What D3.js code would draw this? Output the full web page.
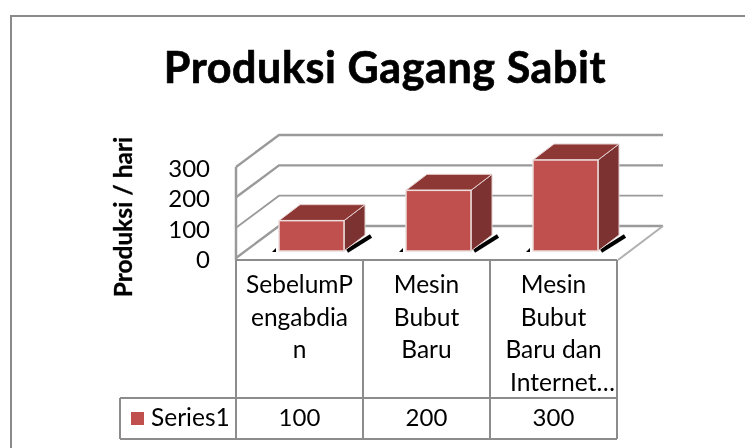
<!DOCTYPE html>
<html><head><meta charset="utf-8">
<script src="https://cdn.jsdelivr.net/npm/d3@7"></script>
<style>html,body{margin:0;padding:0;background:#fff}svg{display:block;filter:blur(0.35px)}text{font-family:Lato,"Open Sans",sans-serif;fill:#000}</style>
</head><body><div id="c"></div>
<script>
const categories=[["SebelumP","engabdia","n"],["Mesin","Bubut","Baru"],["Mesin","Bubut","Baru dan","Internet…"]];
const seriesName="Series1";
const values=[100,200,300];
const yTicks=[0,100,200,300];
const title="Produksi Gagang Sabit";
const yTitle="Produksi / hari";

const W=745,H=448,grid="#9a9a9a",edge="#8c8c8c";
const svg=d3.select("#c").append("svg").attr("width",W).attr("height",H);
svg.append("path").attr("d",`M11,${H}V16H${W}`).attr("fill","none").attr("stroke","#8a8a8a").attr("stroke-width",2);
svg.append("text").attr("x",385).attr("y",83).attr("text-anchor","middle").attr("font-size",43).attr("letter-spacing",0.6).attr("font-weight",700).attr("stroke","#000").attr("stroke-width",0.7).text(title);
svg.append("text").attr("transform","translate(132,217) rotate(-90)").attr("text-anchor","middle").attr("font-size",24.5).attr("font-weight",700).attr("stroke","#000").attr("stroke-width",0.3).text(yTitle);

const x=d3.scaleBand().domain(d3.range(values.length)).range([236,617]);
const y=d3.scaleLinear().domain([0,300]).range([258,167]);
const dx=43,dy=-32;
yTicks.forEach(t=>{
  const yy=y(t);
  svg.append("path").attr("d",`M236,${yy}L${236+dx},${yy+dy}L663,${yy+dy}`).attr("fill","none").attr("stroke",grid).attr("stroke-width",t===100?1.8:2.4);
  svg.append("text").attr("x",210).attr("y",yy+10).attr("text-anchor","end").attr("font-size",24).text(t);
});
svg.append("path").attr("d",`M236,${y(0)+2}V${y(300)}`).attr("stroke",grid).attr("stroke-width",2.5);
svg.append("path").attr("d",`M618,260L663,${y(0)+dy}`).attr("stroke","#b0b0b0").attr("stroke-width",2).attr("fill","none");

const bw=65,bd=21,bh=16,offx=43,base=251;
const h=v=>y(0)-y(v);
values.forEach((v,i)=>{
  const x0=x(i)+offx, x1=x0+bw, t=base-h(v);
  svg.append("path").attr("d",`M${x0-7},${base+1}l4,-4v4z`).attr("fill","#000");
  svg.append("path").attr("d",`M${x1+3},${base}L${x1+27},${base-15}`).attr("stroke","#000").attr("stroke-width",4);
  svg.append("path").attr("d",`M${x1},${t}l${bd},${-bh}V${base-bh}L${x1},${base}z`).attr("fill","#7c3230").attr("stroke","#e4cfce").attr("stroke-width",1);
  svg.append("path").attr("d",`M${x0},${t}l${bd},${-bh}H${x1+bd}L${x1},${t}z`).attr("fill","#8e3836").attr("stroke","#e4cfce").attr("stroke-width",1);
  svg.append("rect").attr("x",x0).attr("y",t).attr("width",bw).attr("height",h(v)).attr("fill","#c0504d").attr("stroke","#ecdcdb").attr("stroke-width",1.5);
});

const tTop=260,tMid=398,tBot=439,tLeft=120;
const line=(x1,y1,x2,y2)=>svg.append("line").attr("x1",x1).attr("y1",y1).attr("x2",x2).attr("y2",y2).attr("stroke",edge).attr("stroke-width",2);
line(236,tTop,617,tTop);line(tLeft,tMid,617,tMid);line(tLeft,tBot,617,tBot);line(tLeft,tMid,tLeft,tBot);
[0,1,2,3].forEach(i=>line(236+i*x.bandwidth(),tTop,236+i*x.bandwidth(),tBot));
categories.forEach((c,i)=>{
  c.forEach((s,j)=>{
    const el=svg.append("text").attr("y",293+j*32.7).attr("font-size",24.5).text(s);
    if(i===2&&j===3) el.attr("x",510).attr("textLength",105).attr("lengthAdjust","spacingAndGlyphs");
    else el.attr("x",x(i)+x.bandwidth()/2).attr("text-anchor","middle");
  });
});
values.forEach((v,i)=>svg.append("text").attr("x",x(i)+x.bandwidth()/2).attr("y",426).attr("text-anchor","middle").attr("font-size",24).text(v));
svg.append("rect").attr("x",131).attr("y",412).attr("width",13).attr("height",13).attr("fill","#c0504d");
svg.append("text").attr("x",151).attr("y",426).attr("font-size",24.5).text(seriesName);
</script></body></html>
